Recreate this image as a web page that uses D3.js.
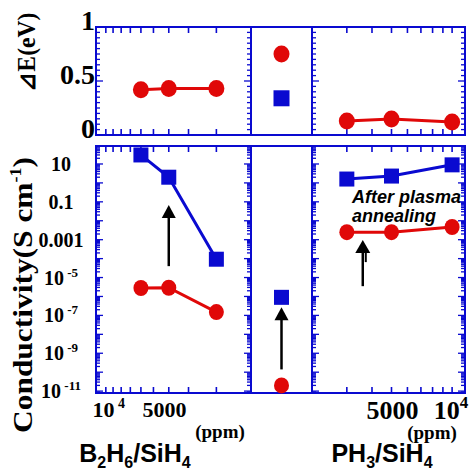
<!DOCTYPE html>
<html>
<head>
<meta charset="utf-8">
<script src="https://cdn.jsdelivr.net/npm/d3@7"></script>
<style>
  html, body { margin: 0; padding: 0; background: #fff; }
  svg { display: block; }
</style>
</head>
<body>
<svg id="chart"></svg>
<script>
// ---------- data ----------
const leftPpm = [6000, 4000, 2000];          // B2H6/SiH4
const rightPpm = [3000, 5000, 10000];        // PH3/SiH4
const midCategory = ["undoped"];

const leftGap = [0.42, 0.43, 0.43];
const midGapAsDep = [0.75];
const midGapAnneal = [0.34];
const rightGap = [0.13, 0.148, 0.12];

const leftCondAsDep = [2.8e-6, 2.9e-6, 1.5e-7];
const leftCondAnneal = [30, 2.0, 9.3e-5];
const midCondAsDep = [2e-11];
const midCondAnneal = [9e-7];
const rightCondAsDep = [2.5e-3, 2.5e-3, 4.7e-3];
const rightCondAnneal = [1.6, 2.3, 9];

const gapTicks = [0, 0.5, 1];
const condTicks = [10, 0.1, 0.001, 1e-5, 1e-7, 1e-9, 1e-11];
const leftXTickLabels = [10000, 5000];
const rightXTickLabels = [5000, 10000];

// arrows: [x, from, to]
const leftArrow = [4000, 4e-5, 0.068];
const midArrow = ["undoped", 1.4e-10, 2.7e-7];
const rightArrow = [3600, 3.5e-6, 9.5e-4];

// ---------- setup ----------
const width = 469, height = 470;
const BLUE = "#0a0ad0", RED = "#e00808";
const SERIF = "'Liberation Serif','Times New Roman',serif";
const SANS = "'Liberation Sans',Arial,sans-serif";

const svg = d3.select("#chart").attr("width", width).attr("height", height);

const xLeft = d3.scaleLog().domain([11540, 1208]).range([96, 251]);
const xRight = d3.scaleLog().domain([2014, 11590]).range([312, 465]);
const xMid = d3.scalePoint().domain(midCategory).range([251, 312]).padding(0.5);

const yGap = d3.scaleLinear().domain([0, 1]).range([135, 27]);
const yCond = d3.scaleLog().domain([Math.pow(10, -11.1), Math.pow(10, 1.95)]).range([393, 146]);

const panels = [
  { x0: 96, x1: 251, xs: xLeft, xt: d3.range(2000, 10001, 1000), left: true, right: true },
  { x0: 251, x1: 312, xs: null, xt: [], left: false, right: false },
  { x0: 312, x1: 465, xs: xRight, xt: d3.range(3000, 10001, 1000), left: true, right: true }
];

// minor log ticks for conductivity axis
const condMinor = [];
for (let e = -12; e <= 2; e++) {
  for (let m = 1; m <= 9; m++) {
    const v = m * Math.pow(10, e);
    if (v >= yCond.domain()[0] && v <= yCond.domain()[1]) condMinor.push({ v, major: m === 1 });
  }
}
const gapMinor = d3.range(0, 21).map(i => ({ v: i * 0.05, major: i % 10 === 0 }));

function drawFrame(yScale, yTicks) {
  const [yb, yt] = yScale.range();
  const g = svg.append("g");
  panels.forEach(p => {
    g.append("rect")
      .attr("x", p.x0).attr("y", yt)
      .attr("width", p.x1 - p.x0).attr("height", yb - yt)
      .attr("fill", "none").attr("stroke", BLUE).attr("stroke-width", 2);

    // x ticks top & bottom
    p.xt.forEach(v => {
      const x = p.xs(v);
      g.append("line").attr("x1", x).attr("x2", x).attr("y1", yb).attr("y2", yb - 6)
        .attr("stroke", BLUE).attr("stroke-width", 1.6);
      g.append("line").attr("x1", x).attr("x2", x).attr("y1", yt).attr("y2", yt + 6)
        .attr("stroke", BLUE).attr("stroke-width", 1.6);
    });

    // y ticks inward on both sides
    yTicks.forEach(t => {
      const y = yScale(t.v);
      const len = t.major ? 7 : 4;
      if (p.left) g.append("line").attr("x1", p.x0).attr("x2", p.x0 + len).attr("y1", y).attr("y2", y)
        .attr("stroke", BLUE).attr("stroke-width", 1.3);
      if (p.right) g.append("line").attr("x1", p.x1).attr("x2", p.x1 - len).attr("y1", y).attr("y2", y)
        .attr("stroke", BLUE).attr("stroke-width", 1.3);
    });
  });
}

drawFrame(yGap, gapMinor);
drawFrame(yCond, condMinor);

// ---------- series ----------
function series(xs, xv, yScale, yv, color, shape, r) {
  const pts = xv.map((d, i) => [xs(d), yScale(yv[i])]);
  if (pts.length > 1) {
    svg.append("path")
      .attr("d", d3.line()(pts))
      .attr("fill", "none").attr("stroke", color).attr("stroke-width", 3);
  }
  if (shape === "circle") {
    svg.append("g").selectAll("ellipse").data(pts).join("ellipse")
      .attr("cx", d => d[0]).attr("cy", d => d[1]).attr("rx", r).attr("ry", r + 0.5).attr("fill", color);
  } else {
    svg.append("g").selectAll("rect").data(pts).join("rect")
      .attr("x", d => d[0] - r).attr("y", d => d[1] - r)
      .attr("width", 2 * r).attr("height", 2 * r).attr("fill", color);
  }
}

series(xLeft, leftPpm, yGap, leftGap, RED, "circle", 8);
series(xMid, midCategory, yGap, midGapAsDep, RED, "circle", 8);
series(xMid, midCategory, yGap, midGapAnneal, BLUE, "square", 8);
series(xRight, rightPpm, yGap, rightGap, RED, "circle", 8);

series(xLeft, leftPpm, yCond, leftCondAnneal, BLUE, "square", 7.5);
series(xLeft, leftPpm, yCond, leftCondAsDep, RED, "circle", 7.5);
series(xMid, midCategory, yCond, midCondAsDep, RED, "circle", 7.5);
series(xMid, midCategory, yCond, midCondAnneal, BLUE, "square", 7.5);
series(xRight, rightPpm, yCond, rightCondAnneal, BLUE, "square", 7.5);
series(xRight, rightPpm, yCond, rightCondAsDep, RED, "circle", 7.5);

// ---------- arrows ----------
function arrow(xs, a, headW) {
  const x = xs(a[0]), y0 = yCond(a[1]), y1 = yCond(a[2]);
  svg.append("line").attr("x1", x).attr("x2", x).attr("y1", y0).attr("y2", y1 + 10)
    .attr("stroke", "#000").attr("stroke-width", 2.5);
  svg.append("path")
    .attr("d", `M${x},${y1} L${x - headW / 2},${y1 + 13} L${x + headW / 2},${y1 + 13} Z`)
    .attr("fill", "#000");
}
arrow(xLeft, leftArrow, 14);
arrow(xMid, midArrow, 14);
arrow(xRight, rightArrow, 15);
svg.append("line")
  .attr("x1", xRight(rightArrow[0]) + 3).attr("x2", xRight(rightArrow[0]) + 3)
  .attr("y1", yCond(rightArrow[2]) + 10).attr("y2", yCond(rightArrow[2]) + 22)
  .attr("stroke", "#000").attr("stroke-width", 2);

svg.append("text")
  .attr("x", 352).attr("y", 203)
  .attr("font-family", SANS).attr("font-style", "italic").attr("font-weight", "bold").attr("font-size", 18)
  .attr("fill", "#000")
  .text("After plasma");
svg.append("text")
  .attr("x", 352).attr("y", 222)
  .attr("font-family", SANS).attr("font-style", "italic").attr("font-weight", "bold").attr("font-size", 18)
  .attr("fill", "#000")
  .text("annealing");

// ---------- y tick labels ----------
svg.append("g").selectAll("text").data(gapTicks).join("text")
  .attr("x", 95).attr("y", d => yGap(d) + 3)
  .attr("text-anchor", "end")
  .attr("font-family", SERIF).attr("font-weight", "bold").attr("font-size", 28)
  .text(d => d);

function supLabel(sel, base, exp, supSize, dy) {
  sel.append("tspan").text(base);
  sel.append("tspan").attr("dy", dy).attr("font-size", supSize).text(exp);
}

condTicks.forEach(v => {
  const t = svg.append("text")
    .attr("x", 61).attr("y", yCond(v))
    .attr("dy", "0.35em")
    .attr("text-anchor", "middle")
    .attr("font-family", SERIF).attr("font-weight", "bold").attr("font-size", 20);
  if (v >= 0.001) t.text(String(v));
  else supLabel(t, "10", " " + Math.round(Math.log10(v)), 13, -8);
});

// ---------- x tick labels ----------
leftXTickLabels.forEach(v => {
  const t = svg.append("text")
    .attr("x", xLeft(v) + (v === 5000 ? 11 : 3)).attr("y", 417)
    .attr("text-anchor", "middle")
    .attr("font-family", SERIF).attr("font-weight", "bold").attr("font-size", 22);
  if (v === 10000) supLabel(t, "10", " 4", 14, -9);
  else t.text(v);
});
rightXTickLabels.forEach(v => {
  const t = svg.append("text")
    .attr("x", xRight(v) + (v === 10000 ? -1 : 1)).attr("y", 419)
    .attr("text-anchor", "middle")
    .attr("font-family", SERIF).attr("font-weight", "bold").attr("font-size", 26);
  if (v === 10000) supLabel(t, "10", "4", 17, -11);
  else t.text(v);
});

// ---------- axis titles ----------
svg.append("text")
  .attr("transform", "translate(35,52) rotate(-90)")
  .attr("text-anchor", "middle")
  .attr("font-family", SERIF).attr("font-weight", "bold").attr("font-size", 25)
  .attr("textLength", 79).attr("lengthAdjust", "spacingAndGlyphs")
  .text("\u22BFE(eV)");

const cond = svg.append("text")
  .attr("transform", "translate(32,295) rotate(-90)")
  .attr("text-anchor", "middle")
  .attr("font-family", SERIF).attr("font-weight", "bold").attr("font-size", 28)
  .attr("textLength", 276).attr("lengthAdjust", "spacingAndGlyphs");
cond.append("tspan").text("Conductivity(S cm");
cond.append("tspan").attr("dy", -11).attr("font-size", 16).text("-1");
cond.append("tspan").attr("dy", 11).text(")");

[[220, 438], [432, 439]].forEach(p => {
  svg.append("text")
    .attr("x", p[0]).attr("y", p[1])
    .attr("text-anchor", "middle")
    .attr("font-family", SERIF).attr("font-weight", "bold").attr("font-size", 19)
    .text("(ppm)");
});

function formula(x, parts) {
  const t = svg.append("text")
    .attr("x", x).attr("y", 462)
    .attr("text-anchor", "middle")
    .attr("font-family", SANS).attr("font-weight", "bold").attr("font-size", 25);
  parts.forEach(p => {
    if (p.sub) t.append("tspan").attr("dy", 6).attr("font-size", 16).text(p.s);
    else t.append("tspan").attr("dy", p.after ? -6 : 0).text(p.s);
  });
}
formula(135, [{ s: "B" }, { s: "2", sub: true }, { s: "H", after: true }, { s: "6", sub: true },
  { s: "/SiH", after: true }, { s: "4", sub: true }]);
formula(382, [{ s: "PH" }, { s: "3", sub: true }, { s: "/SiH", after: true }, { s: "4", sub: true }]);
</script>
</body>
</html>
